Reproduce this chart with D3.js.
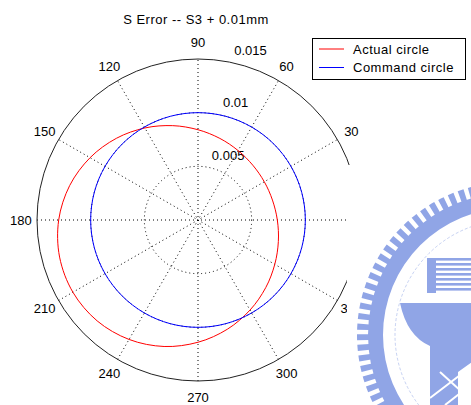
<!DOCTYPE html>
<html>
<head>
<meta charset="utf-8">
<script src="https://cdn.jsdelivr.net/npm/d3@7"></script>
<style>
  body { margin: 0; background: #fff; }
  svg { display: block; font-family: "Liberation Sans", Arial, sans-serif; }
</style>
</head>
<body>
<div id="chart"></div>
<script>
// angle ticks (degrees) and radial ticks (mm)
const angleTicks = [0, 30, 60, 90, 120, 150, 180, 210, 240, 270, 300, 330]
const radialTicks = [0.005, 0.01, 0.015]

// actual circle, every 15 degrees
const actualAngles = [0, 15, 30, 45, 60, 75, 90, 105, 120, 135, 150, 165,
  180, 195, 210, 225, 240, 255, 270, 285, 300, 315, 330, 345]
const actualRadius = [0.00739, 0.00718, 0.00713, 0.00722, 0.00747, 0.00787,
  0.00841, 0.00910, 0.00990, 0.01076, 0.01161, 0.01238,
  0.01298, 0.01335, 0.01346, 0.01329, 0.01285, 0.01220,
  0.01139, 0.01054, 0.00969, 0.00892, 0.00826, 0.00775]

// command circle
const commandAngles = actualAngles
const commandRadius = [0.01, 0.01, 0.01, 0.01, 0.01, 0.01, 0.01, 0.01,
  0.01, 0.01, 0.01, 0.01, 0.01, 0.01, 0.01, 0.01,
  0.01, 0.01, 0.01, 0.01, 0.01, 0.01, 0.01, 0.01]

const seriesNames = ['Actual circle', 'Command circle']
const seriesColors = ['#ff0000', '#0000ff']
const titleText = 'S Error -- S3 + 0.01mm'

const width = 471
const height = 405
const cx = 198
const cy = 220

const svg = d3.select('#chart').append('svg')
  .attr('width', width)
  .attr('height', height)

const rScale = d3.scaleLinear()
  .domain([0, d3.max(radialTicks)])
  .range([0, 161])
const rMax = rScale(d3.max(radialTicks))
const rad = deg => deg * Math.PI / 180
// d3 angles go clockwise from 12 o'clock
const d3Angle = deg => Math.PI / 2 - rad(deg)

const g = svg.append('g').attr('transform', `translate(${cx},${cy})`)

// spokes, dotted, through the center
g.selectAll('line.spoke')
  .data(angleTicks.filter(a => a < 180))
  .join('line')
    .attr('class', 'spoke')
    .attr('x1', a => -rMax * Math.cos(rad(a)))
    .attr('y1', a => rMax * Math.sin(rad(a)))
    .attr('x2', a => rMax * Math.cos(rad(a)))
    .attr('y2', a => -rMax * Math.sin(rad(a)))
    .attr('stroke', '#000')
    .attr('stroke-width', 1)
    .attr('stroke-dasharray', '1,3')

// inner rings dotted, outer ring solid
g.selectAll('circle.ring')
  .data(radialTicks)
  .join('circle')
    .attr('class', 'ring')
    .attr('r', d => rScale(d))
    .attr('fill', 'none')
    .attr('stroke', d => d === d3.max(radialTicks) ? '#222' : '#000')
    .attr('stroke-width', 1)
    .attr('stroke-dasharray', d => d === d3.max(radialTicks) ? null : '1,3')

// radial tick labels at ~79 degrees
g.selectAll('text.rlab')
  .data(radialTicks)
  .join('text')
    .attr('class', 'rlab')
    .attr('x', d => (rScale(d) + 13) * Math.cos(rad(78)))
    .attr('y', d => -(rScale(d) + 12) * Math.sin(rad(79)))
    .attr('dy', '0.35em')
    .attr('font-size', 13)
    .attr('fill', '#000')
    .text(d => d)

// data lines
const line = d3.lineRadial()
  .angle(d => d3Angle(d[0]))
  .radius(d => rScale(d[1]))
  .curve(d3.curveCardinalClosed)

const series = [
  d3.zip(actualAngles, actualRadius),
  d3.zip(commandAngles, commandRadius)
]
g.selectAll('path.series')
  .data(series)
  .join('path')
    .attr('class', 'series')
    .attr('d', line)
    .attr('fill', 'none')
    .attr('stroke', (d, i) => seriesColors[i])
    .attr('stroke-width', 1)

// angle labels
g.selectAll('text.alab')
  .data(angleTicks)
  .join('text')
    .attr('class', 'alab')
    .attr('x', a => 1.1 * rMax * Math.cos(rad(a)))
    .attr('y', a => -1.1 * rMax * Math.sin(rad(a)))
    .attr('dy', '0.35em')
    .attr('text-anchor', 'middle')
    .attr('font-size', 13)
    .attr('fill', '#000')
    .text(a => a)

// title
svg.append('text')
  .attr('x', 196)
  .attr('y', 19)
  .attr('dy', '0.35em')
  .attr('text-anchor', 'middle')
  .attr('font-size', 13)
  .attr('letter-spacing', 0.5)
  .text(titleText)

// watermark picture pasted over the bottom right
const drawWatermark = () => {
  const wm = svg.append('g')
  wm.append('clipPath').attr('id', 'wmclip')
    .append('rect').attr('x', 347).attr('y', 165).attr('width', 124).attr('height', 240)
  wm.append('rect')
    .attr('x', 347).attr('y', 165).attr('width', 124).attr('height', 240)
    .attr('fill', '#fff')
  const blue = '#90a5e6'
  const w = wm.append('g').attr('clip-path', 'url(#wmclip)')
  const gear = w.append('g').attr('transform', 'translate(510,335)')
  gear.append('path')
    .attr('d', d3.arc()({ innerRadius: 127, outerRadius: 142, startAngle: 0, endAngle: 2 * Math.PI }))
    .attr('fill', blue)
  gear.selectAll('path.tooth')
    .data(d3.range(0, 360, 4))
    .join('path')
      .attr('class', 'tooth')
      .attr('d', a => d3.arc()({ innerRadius: 141, outerRadius: 153, startAngle: rad(a), endAngle: rad(a + 2.3) }))
      .attr('fill', blue)
  gear.append('circle')
    .attr('r', 115)
    .attr('fill', 'none')
    .attr('stroke', blue)
    .attr('stroke-opacity', 0.5)
    .attr('stroke-dasharray', '3,2')
  // striped block
  w.append('rect').attr('x', 427).attr('y', 258).attr('width', 9).attr('height', 35).attr('fill', blue)
  w.selectAll('rect.stripe')
    .data(d3.range(7))
    .join('rect')
      .attr('class', 'stripe')
      .attr('x', 436).attr('y', i => 258 + i * 5)
      .attr('width', 36).attr('height', 2.6)
      .attr('fill', blue)
  // shield
  w.append('path')
    .attr('d', 'M400,303 H472 V362 L458,372 V405 H430 V346 Q407,336 400,303 Z')
    .attr('fill', blue)
  w.append('path')
    .attr('d', 'M430,398 L472,366 M445,405 L472,384 M440,372 L462,392')
    .attr('stroke', '#fff')
    .attr('stroke-width', 2)
}
drawWatermark()

// legend
const legend = svg.append('g')
legend.append('rect')
  .attr('x', 312.5).attr('y', 38.5).attr('width', 153).attr('height', 41)
  .attr('fill', '#fff').attr('stroke', '#000').attr('stroke-width', 1)
const item = legend.selectAll('g.item')
  .data(seriesNames)
  .join('g')
    .attr('class', 'item')
    .attr('transform', (d, i) => `translate(0,${49 + i * 18.5})`)
item.append('line')
  .attr('x1', 319).attr('x2', 344)
  .attr('stroke', d => seriesColors[seriesNames.indexOf(d)])
  .attr('stroke-width', 1)
item.append('text')
  .attr('x', 353)
  .attr('dy', '0.35em')
  .attr('font-size', 13)
  .attr('letter-spacing', 0.5)
  .text(d => d)
</script>
</body>
</html>
